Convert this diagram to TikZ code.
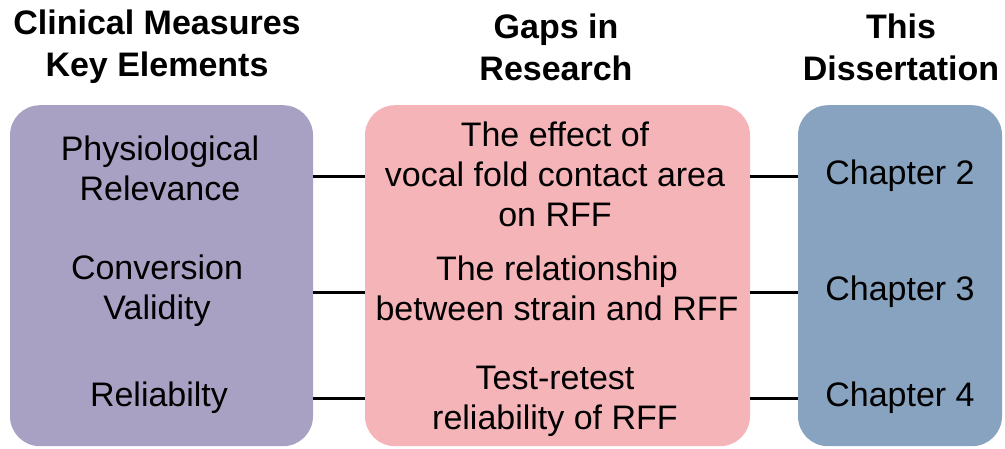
\documentclass[tikz,border=0pt]{standalone}
\usepackage{fontspec}
\setmainfont{Liberation Sans}
\usepackage{xcolor}
\usepackage{tikz}
\usetikzlibrary{positioning}

\definecolor{measurefill}{RGB}{169,161,196}
\definecolor{gapfill}{RGB}{245,180,184}
\definecolor{thesisfill}{RGB}{135,163,192}

\begin{document}
\begin{tikzpicture}[
        x=1pt, y=-1pt,
        column/.style={rectangle, rounded corners=30pt, minimum height=341pt, inner sep=0pt, anchor=north},
        heading/.style={align=center, font=\fontsize{34}{42}\selectfont\bfseries},
        entry/.style={align=center, inner sep=0pt, font=\fontsize{34}{40}\selectfont},
        link/.style={line width=3pt}
    ]
        \useasboundingbox (0,0) rectangle (1005,448);

        % the three columns
        \node[column, fill=measurefill, minimum width=303pt] (measures) at (161.5,105) {};
        \node[column, fill=gapfill, minimum width=385pt] (gaps) at (557.5,105) {};
        \node[column, fill=thesisfill, minimum width=204pt] (thesis) at (900,105) {};

        \node[heading] (hmeasures) at (157,47) {Clinical Measures\\Key Elements};
        \node[heading] (hgaps) at (556,47) {Gaps in\\Research};
        \node[heading] (hthesis) at (901,47) {This\\Dissertation};

        % rows
        \node[entry] (phys) at (160,168) {Physiological\\Relevance};
        \node[entry] (conv) at (157,291) {Conversion\\Validity};
        \node[entry] (relia) at (159,398) {Reliabilty};

        \node[entry] (contact) at (555,174) {The effect of\\vocal fold contact area\\on RFF};
        \node[entry] (strain) at (557,288) {The relationship\\between strain and RFF};
        \node[entry] (retest) at (555,401) {Test-retest\\reliability of RFF};

        \node[entry] (chtwo) at (900,176) {Chapter 2};
        \node[entry] (chthree) at (900,292) {Chapter 3};
        \node[entry] (chfour) at (900,398) {Chapter 4};

        \draw[link] (measures.east |- chtwo) -- (gaps.west |- chtwo);
        \draw[link] (gaps.east |- chtwo) -- (thesis.west |- chtwo);
        \draw[link] (measures.east |- chthree) -- (gaps.west |- chthree);
        \draw[link] (gaps.east |- chthree) -- (thesis.west |- chthree);
        \draw[link] (measures.east |- chfour) -- (gaps.west |- chfour);
        \draw[link] (gaps.east |- chfour) -- (thesis.west |- chfour);
    \end{tikzpicture}
\end{document}
